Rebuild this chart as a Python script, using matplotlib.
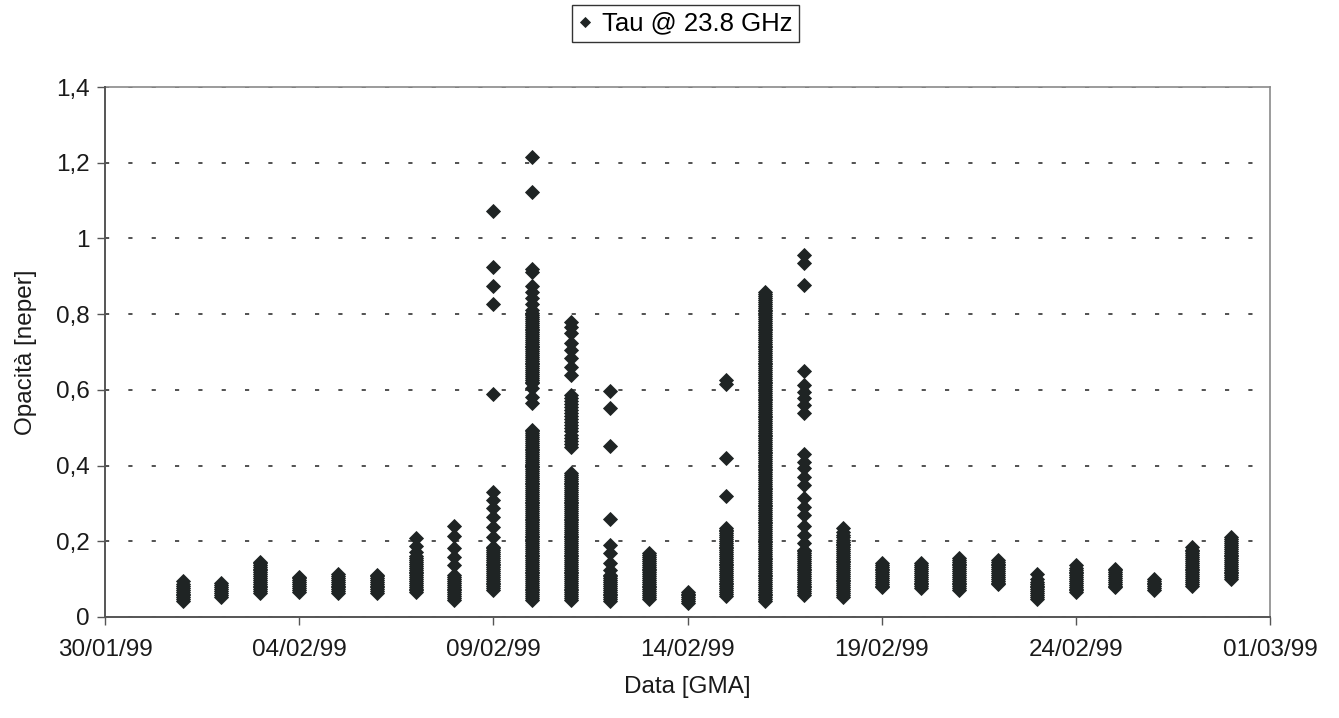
import pandas as pd
import matplotlib
matplotlib.use('Agg')
import matplotlib.pyplot as plt
from matplotlib.ticker import FuncFormatter

plt.rcParams['font.family'] = ['Liberation Sans', 'DejaVu Sans']

# giorni di misura (una colonna di punti per giorno)
giorni = ['01/02/99', '02/02/99', '03/02/99', '04/02/99', '05/02/99', '06/02/99', '07/02/99',
          '08/02/99', '09/02/99', '10/02/99', '11/02/99', '12/02/99', '13/02/99', '14/02/99',
          '15/02/99', '16/02/99', '17/02/99', '18/02/99', '19/02/99', '20/02/99', '21/02/99',
          '22/02/99', '23/02/99', '24/02/99', '25/02/99', '26/02/99', '27/02/99', '28/02/99']

# opacita' a 23.8 GHz [neper], misure del giorno
tau_0102 = [0.042, 0.047, 0.052, 0.057, 0.062, 0.067, 0.072, 0.077, 0.082, 0.087, 0.094]
tau_0202 = [0.054, 0.059, 0.064, 0.069, 0.074, 0.079, 0.084, 0.089]
tau_0302 = [0.063, 0.068, 0.073, 0.078, 0.083, 0.088, 0.093, 0.098, 0.103, 0.108,
            0.113, 0.118, 0.123, 0.128, 0.133, 0.138, 0.143, 0.146]
tau_0402 = [0.067, 0.072, 0.077, 0.082, 0.087, 0.092, 0.097, 0.102, 0.106]
tau_0502 = [0.063, 0.068, 0.073, 0.078, 0.083, 0.088, 0.093, 0.098, 0.103, 0.108, 0.113]
tau_0602 = [0.063, 0.068, 0.073, 0.078, 0.083, 0.088, 0.093, 0.098, 0.103, 0.108, 0.111]
tau_0702 = [0.065, 0.070, 0.075, 0.080, 0.085, 0.090, 0.095, 0.100, 0.105, 0.110,
            0.115, 0.120, 0.125, 0.130, 0.135, 0.140, 0.145, 0.150, 0.155, 0.160,
            0.172, 0.188, 0.208]
tau_0802 = [0.045, 0.050, 0.055, 0.060, 0.065, 0.070, 0.075, 0.080, 0.085, 0.090,
            0.095, 0.100, 0.105, 0.111, 0.137, 0.159, 0.181, 0.215, 0.24]
tau_0902 = [0.071, 0.076, 0.081, 0.086, 0.091, 0.096, 0.101, 0.106, 0.111, 0.116,
            0.121, 0.126, 0.131, 0.136, 0.141, 0.146, 0.151, 0.156, 0.161, 0.166,
            0.171, 0.176, 0.181, 0.186,
            0.212, 0.239, 0.265, 0.287, 0.309, 0.329, 0.589, 0.827, 0.874, 0.924, 1.072]
tau_1002 = [0.045, 0.050, 0.055, 0.060, 0.065, 0.070, 0.075, 0.080, 0.085, 0.090,
            0.095, 0.100, 0.105, 0.110, 0.115, 0.120, 0.125, 0.130, 0.135, 0.140,
            0.145, 0.150, 0.155, 0.160, 0.165, 0.170, 0.175, 0.180, 0.185, 0.190,
            0.195, 0.200, 0.205, 0.210, 0.215, 0.220, 0.225, 0.230, 0.235, 0.240,
            0.245, 0.250, 0.255, 0.260, 0.265, 0.270, 0.275, 0.280, 0.285, 0.290,
            0.295, 0.300, 0.305, 0.310, 0.315, 0.320, 0.325, 0.330, 0.335, 0.340,
            0.345, 0.350, 0.355, 0.360, 0.365, 0.370, 0.375, 0.380, 0.385, 0.390,
            0.395, 0.400, 0.405, 0.410, 0.415, 0.420, 0.425, 0.430, 0.435, 0.440,
            0.445, 0.450, 0.455, 0.460, 0.465, 0.470, 0.475, 0.480, 0.485, 0.490,
            0.494,
            0.565, 0.582, 0.604,
            0.617, 0.622, 0.627, 0.632, 0.637, 0.642, 0.647, 0.652, 0.657, 0.662,
            0.667, 0.672, 0.677, 0.682, 0.687, 0.692, 0.697, 0.702, 0.707, 0.712,
            0.717, 0.722, 0.727, 0.732, 0.737, 0.742, 0.747, 0.752, 0.757, 0.762,
            0.767, 0.772, 0.777, 0.782, 0.787, 0.792, 0.797, 0.802,
            0.812, 0.826, 0.842, 0.858, 0.874, 0.912, 0.919, 1.123, 1.216]
tau_1102 = [0.045, 0.050, 0.055, 0.060, 0.065, 0.070, 0.075, 0.080, 0.085, 0.090,
            0.095, 0.100, 0.105, 0.110, 0.115, 0.120, 0.125, 0.130, 0.135, 0.140,
            0.145, 0.150, 0.155, 0.160, 0.165, 0.170, 0.175, 0.180, 0.185, 0.190,
            0.195, 0.200, 0.205, 0.210, 0.215, 0.220, 0.225, 0.230, 0.235, 0.240,
            0.245, 0.250, 0.255, 0.260, 0.265, 0.270, 0.275, 0.280, 0.285, 0.290,
            0.295, 0.300, 0.305, 0.310, 0.315, 0.320, 0.325, 0.330, 0.335, 0.340,
            0.345, 0.350, 0.355, 0.360, 0.365, 0.370, 0.375, 0.380,
            0.450, 0.458, 0.466, 0.474, 0.482, 0.490, 0.498, 0.506, 0.514, 0.522,
            0.530, 0.538, 0.546, 0.554, 0.562, 0.570, 0.578, 0.586,
            0.639, 0.661, 0.683, 0.705, 0.723, 0.749, 0.765, 0.780]
tau_1202 = [0.042, 0.047, 0.052, 0.057, 0.062, 0.067, 0.072, 0.077, 0.082, 0.087,
            0.092, 0.097, 0.102, 0.107, 0.11, 0.125, 0.142, 0.168, 0.19,
            0.259, 0.452, 0.551, 0.598]
tau_1302 = [0.048, 0.053, 0.058, 0.063, 0.068, 0.073, 0.078, 0.083, 0.088, 0.093,
            0.098, 0.103, 0.108, 0.113, 0.118, 0.123, 0.128, 0.133, 0.138, 0.143,
            0.148, 0.153, 0.158, 0.163, 0.168]
tau_1402 = [0.037, 0.042, 0.047, 0.052, 0.057, 0.062, 0.065]
tau_1502 = [0.056, 0.061, 0.066, 0.071, 0.076, 0.081, 0.086, 0.091, 0.096, 0.101,
            0.106, 0.111, 0.116, 0.121, 0.126, 0.131, 0.136, 0.141, 0.146, 0.151,
            0.156, 0.161, 0.166, 0.171, 0.176, 0.181, 0.186, 0.191, 0.196, 0.201,
            0.206, 0.211, 0.216, 0.221, 0.226, 0.231, 0.235,
            0.32, 0.419, 0.615, 0.625]
tau_1602 = [0.042, 0.047, 0.052, 0.057, 0.062, 0.067, 0.072, 0.077, 0.082, 0.087,
            0.092, 0.097, 0.102, 0.107, 0.112, 0.117, 0.122, 0.127, 0.132, 0.137,
            0.142, 0.147, 0.152, 0.157, 0.162, 0.167, 0.172, 0.177, 0.182, 0.187,
            0.192, 0.197, 0.202, 0.207, 0.212, 0.217, 0.222, 0.227, 0.232, 0.237,
            0.242, 0.247, 0.252, 0.257, 0.262, 0.267, 0.272, 0.277, 0.282, 0.287,
            0.292, 0.297, 0.302, 0.307, 0.312, 0.317, 0.322, 0.327, 0.332, 0.337,
            0.342, 0.347, 0.352, 0.357, 0.362, 0.367, 0.372, 0.377, 0.382, 0.387,
            0.392, 0.397, 0.402, 0.407, 0.412, 0.417, 0.422, 0.427, 0.432, 0.437,
            0.442, 0.447, 0.452, 0.457, 0.462, 0.467, 0.472, 0.477, 0.482, 0.487,
            0.492, 0.497, 0.502, 0.507, 0.512, 0.517, 0.522, 0.527, 0.532, 0.537,
            0.542, 0.547, 0.552, 0.557, 0.562, 0.567, 0.572, 0.577, 0.582, 0.587,
            0.592, 0.597, 0.602, 0.607, 0.612, 0.617, 0.622, 0.627, 0.632, 0.637,
            0.642, 0.647, 0.652, 0.657, 0.662, 0.667, 0.672, 0.677, 0.682, 0.687,
            0.692, 0.697, 0.702, 0.707, 0.712, 0.717, 0.722, 0.727, 0.732, 0.737,
            0.742, 0.747, 0.752, 0.757, 0.762, 0.767, 0.772, 0.777, 0.782, 0.787,
            0.792, 0.797, 0.802, 0.807, 0.812, 0.817, 0.822, 0.827, 0.832, 0.837,
            0.842, 0.847, 0.852, 0.859]
tau_1702 = [0.058, 0.063, 0.068, 0.073, 0.078, 0.083, 0.088, 0.093, 0.098, 0.103,
            0.108, 0.113, 0.118, 0.123, 0.128, 0.133, 0.138, 0.143, 0.148, 0.153,
            0.158, 0.163, 0.168, 0.173, 0.177, 0.195, 0.217, 0.240, 0.269, 0.291, 0.313,
            0.349, 0.371, 0.393, 0.41, 0.43, 0.54, 0.56, 0.578, 0.595, 0.613, 0.651,
            0.877, 0.934, 0.956]
tau_1802 = [0.054, 0.059, 0.064, 0.069, 0.074, 0.079, 0.084, 0.089, 0.094, 0.099,
            0.104, 0.109, 0.114, 0.119, 0.124, 0.129, 0.134, 0.139, 0.144, 0.149,
            0.154, 0.159, 0.164, 0.169, 0.174, 0.179, 0.184, 0.189, 0.194, 0.199,
            0.204, 0.210, 0.216, 0.225, 0.236]
tau_1902 = [0.078, 0.083, 0.088, 0.093, 0.098, 0.103, 0.108, 0.113, 0.118, 0.123,
            0.128, 0.133, 0.138, 0.142]
tau_2002 = [0.076, 0.081, 0.086, 0.091, 0.096, 0.101, 0.106, 0.111, 0.116, 0.121,
            0.126, 0.131, 0.136, 0.142]
tau_2102 = [0.071, 0.076, 0.081, 0.086, 0.091, 0.096, 0.101, 0.106, 0.111, 0.116,
            0.121, 0.126, 0.131, 0.136, 0.141, 0.146, 0.151, 0.155]
tau_2202 = [0.086, 0.091, 0.096, 0.101, 0.106, 0.111, 0.116, 0.121, 0.126, 0.131,
            0.136, 0.141, 0.146, 0.150]
tau_2302 = [0.048, 0.053, 0.058, 0.063, 0.068, 0.073, 0.078, 0.083, 0.088, 0.093,
            0.100, 0.113]
tau_2402 = [0.065, 0.070, 0.075, 0.080, 0.085, 0.090, 0.095, 0.100, 0.105, 0.110,
            0.115, 0.120, 0.125, 0.130, 0.137]
tau_2502 = [0.078, 0.083, 0.088, 0.093, 0.098, 0.103, 0.108, 0.113, 0.118, 0.123, 0.127]
tau_2602 = [0.071, 0.076, 0.081, 0.086, 0.091, 0.096, 0.100]
tau_2702 = [0.083, 0.088, 0.093, 0.098, 0.103, 0.108, 0.113, 0.118, 0.123, 0.128,
            0.133, 0.138, 0.143, 0.148, 0.153, 0.158, 0.163, 0.168, 0.173, 0.178, 0.184]
tau_2802 = [0.100, 0.105, 0.110, 0.115, 0.120, 0.125, 0.130, 0.135, 0.140, 0.145,
            0.150, 0.155, 0.160, 0.165, 0.170, 0.175, 0.180, 0.185, 0.190, 0.195,
            0.200, 0.205, 0.210]

tau = [tau_0102, tau_0202, tau_0302, tau_0402, tau_0502, tau_0602, tau_0702,
       tau_0802, tau_0902, tau_1002, tau_1102, tau_1202, tau_1302, tau_1402,
       tau_1502, tau_1602, tau_1702, tau_1802, tau_1902, tau_2002, tau_2102,
       tau_2202, tau_2302, tau_2402, tau_2502, tau_2602, tau_2702, tau_2802]

tick_date = ['30/01/99', '04/02/99', '09/02/99', '14/02/99', '19/02/99', '24/02/99', '01/03/99']
tick_y = [0, 0.2, 0.4, 0.6, 0.8, 1.0, 1.2, 1.4]

x = []
y = []
for g, valori in zip(giorni, tau):
    x += [pd.to_datetime(g, format='%d/%m/%y')] * len(valori)
    y += valori

fig = plt.figure(figsize=(13.39, 7.18), dpi=100)
ax = fig.add_axes([0.0784, 0.1407, 0.8701, 0.7381])

ax.plot(x, y, linestyle='none', marker='D', markersize=7, color='#1f2424',
        markeredgewidth=0.6, label='Tau @ 23.8 GHz', zorder=3)

date_tick = pd.to_datetime(tick_date, format='%d/%m/%y')
ax.set_xlim(date_tick[0], date_tick[-1])
ax.set_xticks(date_tick)
ax.set_xticklabels(tick_date)

ax.set_ylim(0, 1.4)
ax.set_yticks(tick_y)
ax.yaxis.set_major_formatter(FuncFormatter(lambda v, p: ('%g' % round(v, 1)).replace('.', ',')))

ax.grid(axis='y', color='#333333', linestyle=(0, (2.5, 11.5)), linewidth=1.2)
ax.set_axisbelow(True)

for lato in ['top', 'right']:
    ax.spines[lato].set_color('#8a8a8a')
    ax.spines[lato].set_linewidth(1.2)
for lato in ['left', 'bottom']:
    ax.spines[lato].set_color('#555555')
    ax.spines[lato].set_linewidth(1.4)
    ax.spines[lato].set_zorder(4)

ax.tick_params(axis='both', direction='out', length=6, width=1, color='#555555',
               labelsize=17.5, labelcolor='#1a1a1a')
ax.tick_params(axis='x', pad=10)
ax.tick_params(axis='y', pad=5)

ax.set_xlabel('Data [GMA]', fontsize=17.5, color='#1a1a1a', labelpad=11)
ax.set_ylabel('Opacità [neper]', fontsize=17.5, color='#1a1a1a', labelpad=14)

fig.legend(loc='center', bbox_to_anchor=(0.512, 0.967), fontsize=18.5, frameon=True,
           fancybox=False, edgecolor='#333333', framealpha=1, handlelength=0.5,
           handletextpad=0.4, borderpad=0.25, borderaxespad=0, markerscale=0.7)

fig.savefig('out.png', dpi=100)
